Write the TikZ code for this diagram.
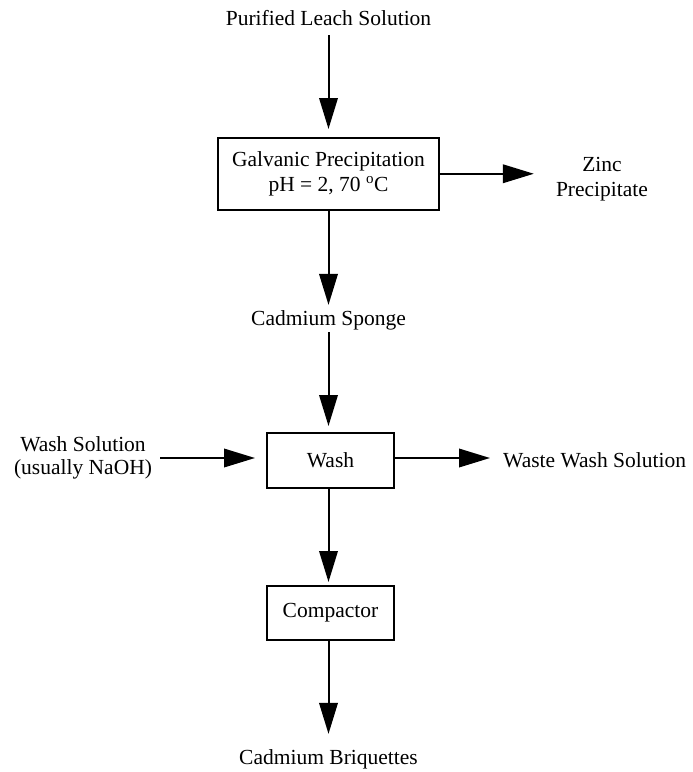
\documentclass[tikz,border=0pt]{standalone}
\usepackage{fontspec}
\setmainfont{Liberation Serif}
\usetikzlibrary{arrows.meta}
\begin{document}
\begin{tikzpicture}[x=1pt,y=-1pt,
  every node/.style={font=\fontsize{21.5}{25}\selectfont},
  stream/.style={inner sep=0pt, align=center},
  unit/.style={draw, line width=2pt, inner sep=0pt, align=center},
  flow/.style={line width=2pt, -{Triangle[length=31pt,width=18.5pt]}}
]
\useasboundingbox (0,0) rectangle (693,772);

% process units
\node[unit, minimum width=221pt, minimum height=72.5pt] (galv) at (328.5,173.75)
  {Galvanic Precipitation\\pH = 2, 70 \textsuperscript{o}C};
\node[unit, minimum width=127pt, minimum height=55pt] (wash) at (330.5,460.5) {Wash};
\node[unit, minimum width=127pt, minimum height=54pt] (comp) at (330.5,613) {Compactor};

% streams
\node[stream, anchor=base] (feed) at (328.5,25) {Purified Leach Solution};
\node[stream] (zinc) at (602,179.5) {Zinc\\Precipitate};
\node[stream, anchor=base] (sponge) at (328.5,325) {Cadmium Sponge};
\node[stream, font=\fontsize{21.5}{22.5}\selectfont] (washin) at (83,458)
  {Wash Solution\\(usually NaOH)};
\node[stream, anchor=base west] (waste) at (503,467) {Waste Wash Solution};
\node[stream, anchor=base] (briq) at (328.5,764) {Cadmium Briquettes};

% connectors
\draw[flow, shorten <=10pt, shorten >=7.5pt] (feed.south) -- (feed.south |- galv.north);
\draw[flow, shorten >=22pt] (galv.east) -- (galv.east -| zinc.west);
\draw[flow, shorten >=5pt] (galv.south) -- (galv.south |- sponge.north);
\draw[flow, shorten <=2.5pt, shorten >=6pt] (sponge.south) -- (sponge.south |- wash.north);
\draw[flow, shorten <=8pt, shorten >=11pt] (washin.east) -- (washin.east -| wash.west);
\draw[flow, shorten >=13pt] (washin.east -| wash.east) -- (washin.east -| waste.west);
\draw[flow, shorten >=3pt] (wash.south -| sponge.south) -- (comp.north -| sponge.south);
\draw[flow, shorten >=15pt] (comp.south -| briq.north) -- (briq.north);
\end{tikzpicture}
\end{document}
